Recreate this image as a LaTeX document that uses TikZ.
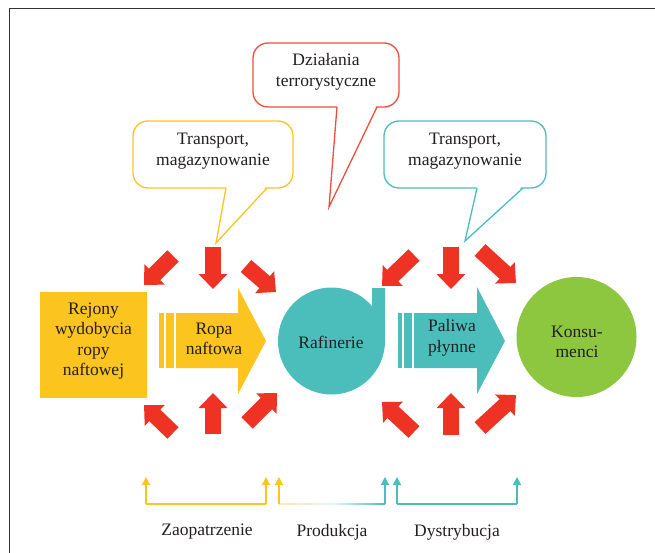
\documentclass[tikz,border=0pt]{standalone}
\usepackage{fontspec}
\setmainfont{Liberation Serif}
\usetikzlibrary{arrows.meta}
\definecolor{cyel}{RGB}{252,196,30}
\definecolor{cteal}{RGB}{75,190,188}
\definecolor{cgreen}{RGB}{141,198,63}
\definecolor{cred}{RGB}{238,50,36}
\definecolor{credline}{RGB}{240,78,60}
\definecolor{ctext}{RGB}{35,31,32}
\tikzset{
  lbl/.style={text=ctext, align=center, font=\fontsize{17.5}{20.5}\selectfont, inner sep=0pt},
  blockarrow/.style={draw=cred, line width=16pt, -{Triangle[width=28pt,length=15pt]}},
  bracketline/.style={line width=1.3pt},
  brackettip/.style={-{Triangle[width=8pt,length=8pt]}},
  calloutline/.style={line width=1.3pt},
}
\begin{document}
\begin{tikzpicture}[x=1pt,y=-1pt]
\useasboundingbox (0,0) rectangle (655,553);
% frame
\draw[line width=1.6pt, black!80] (9.5,553) -- (9.5,8.5) -- (655,8.5);

% ---------- callouts ----------
% yellow
\draw[calloutline, draw=cyel, fill=white, rounded corners=15pt] (133,121) rectangle (293,188);
\fill[white] (226.5,186) -- (216,243) -- (266.5,186) -- cycle;
\draw[calloutline, draw=cyel, line join=miter] (226,188) -- (216,243) -- (267,188);
\node[lbl] (c1) at (213,151) {Transport,\\magazynowanie};
% red
\draw[calloutline, draw=credline, fill=white, rounded corners=15pt] (253,43) rectangle (399,107);
\fill[white] (337.3,105) -- (329,207) -- (376.7,105) -- cycle;
\draw[calloutline, draw=credline] (337,107) -- (329,207) -- (377,107);
\node[lbl] (c2) at (326,72) {Działania\\terrorystyczne};
% teal
\draw[calloutline, draw=cteal, fill=white, rounded corners=15pt] (384,121) rectangle (546,188);
\fill[white] (477.5,186) -- (465,241) -- (522.5,186) -- cycle;
\draw[calloutline, draw=cteal] (477,188) -- (465,241) -- (523,188);
\node[lbl] (c3) at (465,151) {Transport,\\magazynowanie};

% ---------- main shapes ----------
\fill[cyel] (40,292) rectangle (147,398);
\node[lbl] (rej) at (93.5,341) {Rejony\\wydobycia\\ropy\\naftowej};

\fill[cyel] (159,313) rectangle (164,368);
\fill[cyel] (166,313) rectangle (174,368);
\fill[cyel] (176,313) -- (238,313) -- (238,288) -- (266,341) -- (238,394) -- (238,368) -- (176,368) -- cycle;
\node[lbl] (ropa) at (214,339) {Ropa\\naftowa};

\fill[cteal] (331.5,341) circle[radius=53.5];
\fill[cteal] (372,288) rectangle (385,341);
\node[lbl] (raf) at (331,342) {Rafinerie};

\fill[cteal] (398,313) rectangle (402,368);
\fill[cteal] (404,313) rectangle (412,368);
\fill[cteal] (414,313) -- (477,313) -- (477,287) -- (505,341) -- (477,394) -- (477,368) -- (414,368) -- cycle;
\node[lbl] (pal) at (452,338) {Paliwa\\płynne};

\fill[cgreen] (576.5,337) circle[radius=60];
\node[lbl] (kon) at (577,342) {Konsu-\\menci};

% ---------- red block arrows ----------
\coordinate (a1s) at (173,256); \coordinate (a1e) at (144,285);
\coordinate (a2s) at (213,247); \coordinate (a2e) at (213,289);
\coordinate (a3s) at (246,266); \coordinate (a3e) at (276,292);
\coordinate (a4s) at (173,433); \coordinate (a4e) at (144,405);
\coordinate (a5s) at (213,434); \coordinate (a5e) at (213,393);
\coordinate (a6s) at (247,423); \coordinate (a6e) at (277,393);
\coordinate (b1s) at (414,255); \coordinate (b1e) at (382,286);
\coordinate (b2s) at (451,247); \coordinate (b2e) at (451,289);
\coordinate (b3s) at (480,250); \coordinate (b3e) at (516,283);
\coordinate (b4s) at (414,432); \coordinate (b4e) at (382,402);
\coordinate (b5s) at (451,435); \coordinate (b5e) at (451,393);
\coordinate (b6s) at (480,428); \coordinate (b6e) at (516,395);
\foreach \n in {a1,a2,a3,a4,a5,a6,b1,b2,b3,b4,b5,b6}
  \draw[blockarrow] (\n s) -- (\n e);

% ---------- bottom brackets ----------
\coordinate (z1) at (146,504); \coordinate (z1t) at (146,477);
\coordinate (z2) at (266,504); \coordinate (z2t) at (266,477);
\coordinate (p1) at (279,504); \coordinate (p1t) at (279,477);
\coordinate (p2) at (385,504); \coordinate (p2t) at (385,477);
\coordinate (d1) at (397,504); \coordinate (d1t) at (397,477);
\coordinate (d2) at (517,504); \coordinate (d2t) at (517,477);

\draw[bracketline, cyel] (z1) -- (z2);
\draw[bracketline, cyel, brackettip] (z1) -- (z1t);
\draw[bracketline, cyel, brackettip] (z2) -- (z2t);

\shade[left color=cyel!35!white, right color=cteal, middle color=cteal!15!white] (279,503.35) rectangle (385,504.65);
\draw[bracketline, cyel, brackettip] (p1) -- (p1t);
\draw[bracketline, cteal, brackettip] (p2) -- (p2t);

\draw[bracketline, cteal] (d1) -- (d2);
\draw[bracketline, cteal, brackettip] (d1) -- (d1t);
\draw[bracketline, cteal, brackettip] (d2) -- (d2t);

\node[lbl] (zao) at (207,532) {Zaopatrzenie};
\node[lbl] (pro) at (332,532) {Produkcja};
\node[lbl] (dys) at (457,532) {Dystrybucja};
\end{tikzpicture}
\end{document}
